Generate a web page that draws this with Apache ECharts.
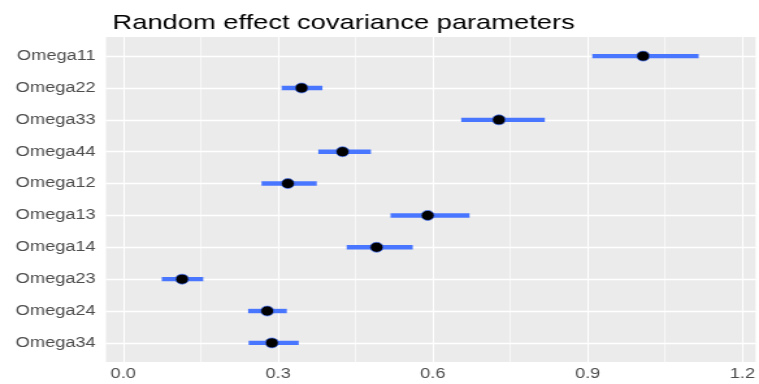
<!DOCTYPE html>
<html>
<head>
<meta charset="utf-8">
<script src="https://cdn.jsdelivr.net/npm/echarts@6/dist/echarts.min.js"></script>
<style>
html,body{margin:0;padding:0;background:#fff;overflow:hidden;}
#wrap{width:759px;height:384px;overflow:hidden;}
#main{width:584px;height:384px;transform:scaleX(1.29966);transform-origin:0 0;}
</style>
</head>
<body>
<div id="wrap"><div id="main"></div></div>
<script>
const categories = ['Omega11','Omega22','Omega33','Omega44','Omega12','Omega13','Omega14','Omega23','Omega24','Omega34'];
const estimates = [1.0075, 0.3456, 0.728, 0.425, 0.319, 0.590, 0.491, 0.114, 0.279, 0.288];
const lower     = [0.909, 0.307, 0.655, 0.378, 0.268, 0.518, 0.433, 0.0747, 0.242, 0.243];
const upper     = [1.115, 0.386, 0.817, 0.480, 0.375, 0.671, 0.561, 0.155, 0.317, 0.340];
const xTicks = [0, 0.3, 0.6, 0.9, 1.2];
const xMinor = [0.15, 0.45, 0.75, 1.05];

const S = 1.29966;
const font = 'Liberation Sans, Arial, Helvetica, sans-serif';
const chart = echarts.init(document.getElementById('main'), null, {renderer:'canvas'});

const catIdx = categories.map((c,i)=>i);
const rangeData = categories.map((c,i)=>[lower[i], upper[i], i]);
const pointData = categories.map((c,i)=>[estimates[i], i]);

const gridLines = [];
catIdx.forEach(i=>gridLines.push({yAxis:i, lineStyle:{color:'#ffffff', width:1.4, type:'solid'}}));
xTicks.forEach(v=>gridLines.push({xAxis:v, lineStyle:{color:'#ffffff', width:1.15, type:'solid'}}));
xMinor.forEach(v=>gridLines.push({xAxis:v, lineStyle:{color:'#ffffff', width:0.6, type:'solid'}}));

chart.setOption({
  animation:false,
  backgroundColor:'#ffffff',
  title:{
    text:'Random effect covariance parameters',
    left:106/S, top:8,
    textStyle:{fontFamily:font, fontSize:21, fontWeight:'normal', color:'#000000'}
  },
  grid:{left:106/S, right:584-758/S, top:37, bottom:22, show:true, backgroundColor:'#ebebeb', borderWidth:0},
  xAxis:{
    type:'value', min:-0.0334, max:1.2253,
    axisLine:{show:false},
    axisTick:{show:true, customValues:xTicks, length:4, lineStyle:{color:'#333333', width:1}},
    axisLabel:{customValues:xTicks, formatter:v=>Number(v).toFixed(1), color:'#4d4d4d', fontFamily:font, fontSize:14, margin:5},
    splitLine:{show:false}
  },
  yAxis:{
    type:'value', inverse:true, min:-0.6, max:9.6,
    axisLine:{show:false},
    axisTick:{show:true, customValues:catIdx, length:4, lineStyle:{color:'#333333', width:1}},
    axisLabel:{customValues:catIdx, formatter:v=>categories[Math.round(v)], color:'#4d4d4d', fontFamily:font, fontSize:14, margin:8},
    splitLine:{show:false}
  },
  series:[
    {
      type:'scatter', data:[], z:1, silent:true,
      markLine:{z:1, silent:true, symbol:['none','none'], label:{show:false}, animation:false, data:gridLines}
    },
    {
      type:'custom', z:10, silent:true,
      data:rangeData,
      encode:{x:[0,1], y:2},
      renderItem:function(params, api){
        const p1 = api.coord([api.value(0), api.value(2)]);
        const p2 = api.coord([api.value(1), api.value(2)]);
        return {type:'line', shape:{x1:p1[0], y1:p1[1], x2:p2[0], y2:p2[1]},
                style:{stroke:'#4876FF', lineWidth:4.4, lineCap:'butt'}};
      }
    },
    {
      type:'scatter', z:11, silent:true,
      data:pointData,
      symbol:'circle', symbolSize:10,
      itemStyle:{color:'#000000', borderColor:'#4876FF', borderWidth:0.7, opacity:1}
    }
  ]
});
</script>
</body>
</html>
